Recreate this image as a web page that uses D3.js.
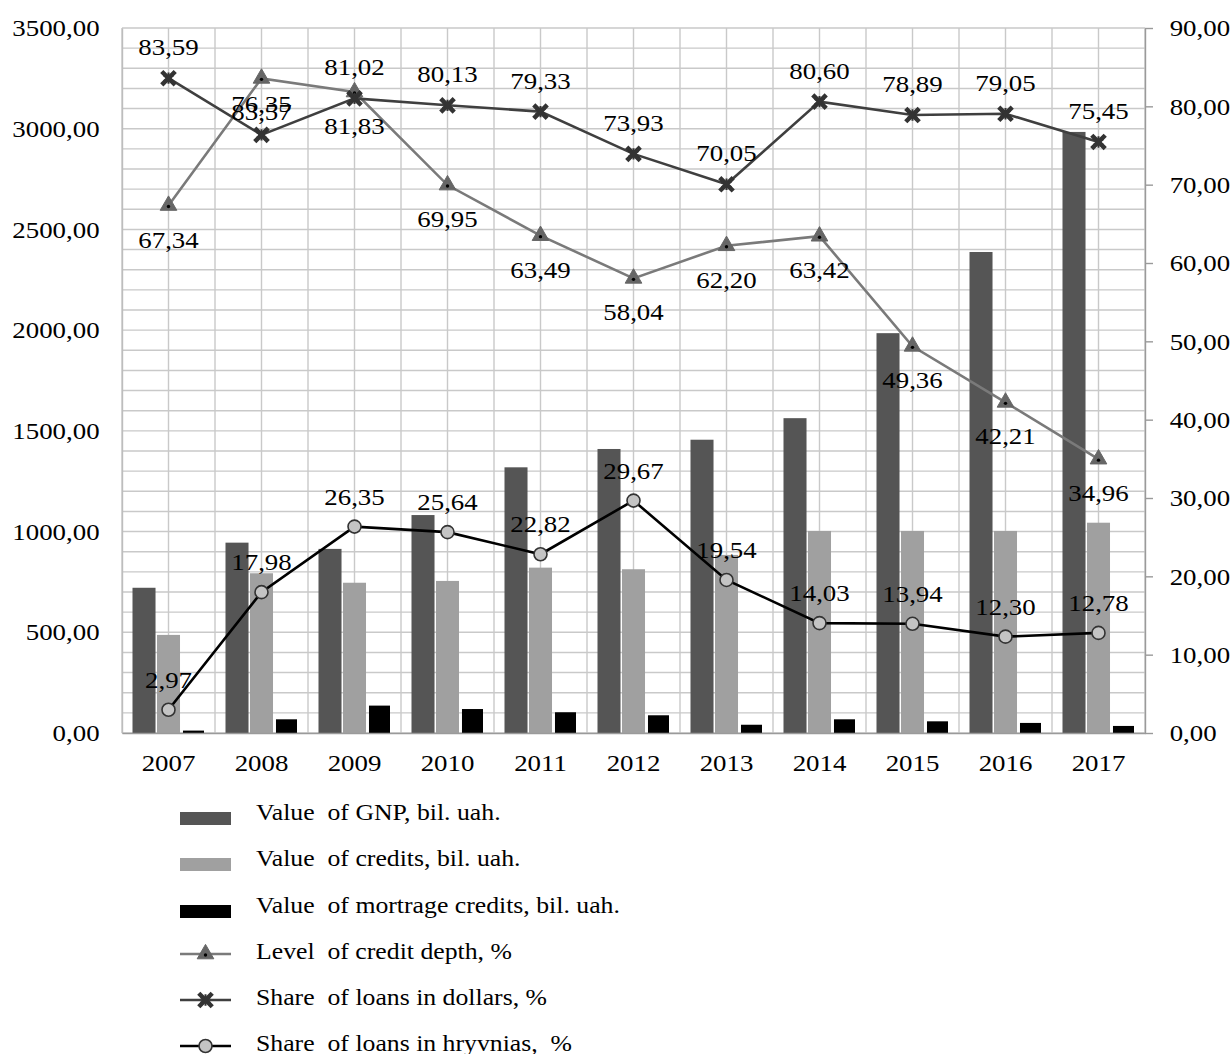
<!DOCTYPE html>
<html>
<head>
<meta charset="utf-8">
<script src="https://cdn.jsdelivr.net/npm/d3@7"></script>
<style>
  body { margin: 0; background: #fff; }
  text { font-family: "Liberation Serif", "Times New Roman", serif; fill: #000; }
</style>
</head>
<body>
<div id="chart"></div>
<script>
const years = ['2007', '2008', '2009', '2010', '2011', '2012', '2013', '2014', '2015', '2016', '2017'];
const gnp = [721, 945, 914, 1082, 1319, 1410, 1456, 1563, 1985, 2388, 2984];
const credits = [487, 793, 746, 755, 821, 813, 884, 1003, 1003, 1003, 1044];
const mortgage = [12, 68, 136, 119, 103, 88, 41, 68, 58, 50, 35];
const creditDepth = [67.34, 83.57, 81.83, 69.95, 63.49, 58.04, 62.20, 63.42, 49.36, 42.21, 34.96];
const shareDollars = [83.59, 76.35, 81.02, 80.13, 79.33, 73.93, 70.05, 80.60, 78.89, 79.05, 75.45];
const shareHryvnias = [2.97, 17.98, 26.35, 25.64, 22.82, 29.67, 19.54, 14.03, 13.94, 12.30, 12.78];
const leftTicks = [0, 500, 1000, 1500, 2000, 2500, 3000, 3500];
const rightTicks = [0, 10, 20, 30, 40, 50, 60, 70, 80, 90];
const legendLabels = [
  'Value\u00a0 of GNP, bil. uah.',
  'Value\u00a0 of credits, bil. uah.',
  'Value\u00a0 of mortrage credits, bil. uah.',
  'Level\u00a0 of credit depth, %',
  'Share\u00a0 of loans in dollars, %',
  'Share\u00a0 of loans in hryvnias,\u00a0 %'
];

const W = 1232, H = 1054;
const plotLeft = 122, plotRight = 1145, plotTop = 28, plotBottom = 733;
const SX = 1.12; // horizontal stretch of the source text

const svg = d3.select('#chart').append('svg')
  .attr('width', W).attr('height', H);

const x = d3.scaleBand().domain(years).range([plotLeft, plotRight]);
const xi = d3.scaleBand().domain(['gnp', 'credits', 'mortgage']).range([-36, 36]).paddingInner(0.06);
const yL = d3.scaleLinear().domain([0, 3500]).range([plotBottom, plotTop]);
const yR = d3.scaleLinear().domain([0, 90]).range([plotBottom, plotTop]);
const fmt = d => d3.format('.2f')(d).replace('.', ',');
const cx = d => x(d) + x.bandwidth() / 2;

// grid
const grid = svg.append('g').attr('stroke', '#c9c9c9').attr('stroke-width', 1.4);
grid.selectAll('line.h').data(d3.range(0, 3501, 100)).join('line')
  .attr('x1', plotLeft).attr('x2', plotRight)
  .attr('y1', d => yL(d)).attr('y2', d => yL(d));
const vx = [];
years.forEach(y => { vx.push(x(y)); vx.push(cx(y)); });
vx.push(plotRight);
grid.selectAll('line.v').data(vx).join('line')
  .attr('x1', d => d).attr('x2', d => d)
  .attr('y1', plotTop).attr('y2', plotBottom);

// bars
const barData = [];
years.forEach((y, i) => {
  barData.push({ year: y, key: 'gnp', v: gnp[i], c: '#555555' });
  barData.push({ year: y, key: 'credits', v: credits[i], c: '#a0a0a0' });
  barData.push({ year: y, key: 'mortgage', v: mortgage[i], c: '#000000' });
});
svg.append('g').selectAll('rect').data(barData).join('rect')
  .attr('x', d => cx(d.year) + xi(d.key) + (d.key === 'mortgage' ? 1.5 : 0))
  .attr('width', d => xi.bandwidth() - (d.key === 'mortgage' ? 2 : 0))
  .attr('y', d => yL(d.v))
  .attr('height', d => yL(0) - yL(d.v))
  .attr('fill', d => d.c);

// axes
function stretch(sel) {
  sel.selectAll('text').attr('transform', `scale(${SX},1)`);
}
const axL = svg.append('g').attr('transform', `translate(${plotLeft},0)`)
  .call(d3.axisLeft(yL).tickValues(leftTicks).tickSize(0).tickPadding(20).tickFormat(fmt));
axL.select('.domain').attr('stroke', '#bdbdbd').attr('stroke-width', 1.4);
axL.selectAll('text').attr('font-size', 24).attr('font-family', 'Liberation Serif');
stretch(axL);

const axR = svg.append('g').attr('transform', `translate(${plotRight},0)`)
  .call(d3.axisRight(yR).tickValues(rightTicks).tickSize(8).tickPadding(14).tickSizeOuter(0).tickFormat(fmt));
axR.selectAll('.domain, line').attr('stroke', '#9a9a9a').attr('stroke-width', 1.4);
axR.selectAll('text').attr('font-size', 24).attr('font-family', 'Liberation Serif');
stretch(axR);

const axB = svg.append('g').attr('transform', `translate(0,${plotBottom})`)
  .call(d3.axisBottom(x).tickSize(0).tickPadding(21).tickSizeOuter(0));
axB.select('.domain').attr('stroke', '#9a9a9a').attr('stroke-width', 1.6);
axB.selectAll('text').attr('font-size', 24).attr('font-family', 'Liberation Serif');
stretch(axB);

// lines
const series = [
  { vals: creditDepth, color: '#7a7a7a', marker: 'tri', off: 42 },
  { vals: shareDollars, color: '#3f3f3f', marker: 'star', off: -23 },
  { vals: shareHryvnias, color: '#000000', marker: 'circ', off: -22 }
];
const line = d3.line().x((d, i) => cx(years[i])).y(d => yR(d));

function drawMarker(g, type) {
  if (type === 'tri') {
    g.append('path').attr('d', d3.symbol(d3.symbolTriangle, 120)())
      .attr('fill', '#666').attr('stroke', '#666').attr('stroke-width', 1);
    g.append('circle').attr('r', 1.7).attr('cy', 1).attr('fill', '#000');
  } else if (type === 'star') {
    g.append('path').attr('d', d3.symbol(d3.symbolTimes, 120)())
      .attr('stroke', '#333').attr('stroke-width', 4.5).attr('fill', 'none');
    g.append('path').attr('d', d3.symbol(d3.symbolAsterisk, 90)())
      .attr('stroke', '#333').attr('stroke-width', 2).attr('fill', 'none');
  } else {
    g.append('circle').attr('r', 6.5).attr('fill', '#c4c4c4')
      .attr('stroke', '#333').attr('stroke-width', 1.6);
  }
}

series.forEach(s => {
  svg.append('path').datum(s.vals).attr('d', line)
    .attr('fill', 'none').attr('stroke', s.color).attr('stroke-width', 2.6);
});
series.forEach(s => {
  s.vals.forEach((v, i) => {
    const g = svg.append('g').attr('transform', `translate(${cx(years[i])},${yR(v)})`);
    drawMarker(g, s.marker);
  });
});
series.forEach(s => {
  svg.append('g').selectAll('text').data(s.vals).join('text')
    .attr('transform', (d, i) => `translate(${cx(years[i])},${yR(d) + s.off}) scale(${SX},1)`)
    .attr('text-anchor', 'middle')
    .attr('font-size', 24)
    .text(fmt);
});

// legend
const legY = [812, 858, 905, 951, 997, 1043];
const legend = svg.append('g');
legendLabels.forEach((lab, i) => {
  const y = legY[i];
  const g = legend.append('g');
  if (i < 3) {
    g.append('rect').attr('x', 180).attr('y', y).attr('width', 51).attr('height', 13)
      .attr('fill', ['#555555', '#a0a0a0', '#000000'][i]);
  } else {
    const s = series[i - 3];
    g.append('line').attr('x1', 180).attr('x2', 231).attr('y1', y + 3).attr('y2', y + 3)
      .attr('stroke', s.color).attr('stroke-width', 2.6);
    const m = g.append('g').attr('transform', `translate(205.5,${y + 3})`);
    drawMarker(m, s.marker);
  }
  g.append('text')
    .attr('transform', `translate(256,${y + 8}) scale(${SX},1)`)
    .attr('font-size', 23)
    .text(lab);
});
</script>
</body>
</html>
